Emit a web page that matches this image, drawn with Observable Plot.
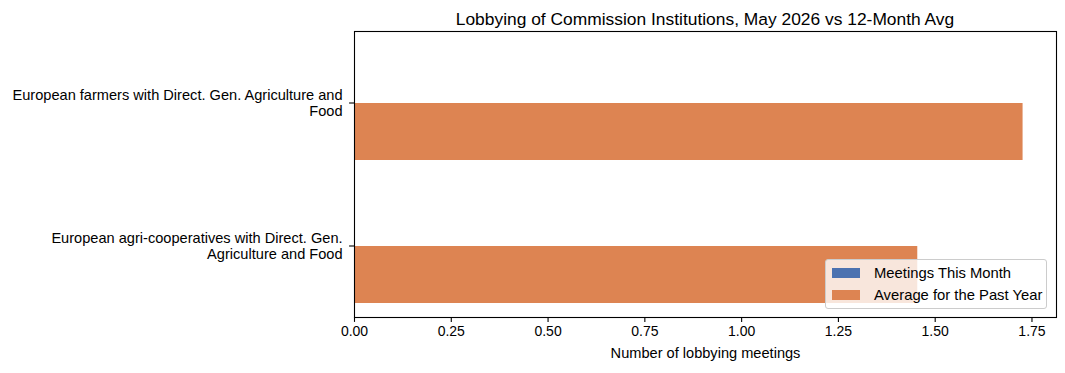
<!DOCTYPE html>
<html>
<head>
<meta charset="utf-8">
<script src="https://cdn.jsdelivr.net/npm/d3@7"></script>
<script src="https://cdn.jsdelivr.net/npm/@observablehq/plot@0.6"></script>
<style>
  body { margin: 0; background: #fff; font-family: "Liberation Sans", Arial, sans-serif; }
  #wrap { position: relative; width: 1065px; height: 373px; }
  #title { height: 30px; box-sizing: border-box; padding-top: 11px; margin-left: 354px; width: 702px; text-align: center; font-size: 17.4px; line-height: 17px; color: #000; white-space: nowrap; }
  #legend { position: absolute; left: 825px; top: 259px; width: 220px; height: 48px; border: 1px solid #cccccc; border-radius: 3px; background: rgba(255,255,255,0.8); font-size: 14.8px; color: #000; }
  .item { position: absolute; left: 6px; height: 16px; display: flex; align-items: center; white-space: nowrap; }
  .sw { width: 28px; height: 10px; margin-right: 14px; }
</style>
</head>
<body>
<div id="wrap">
  <div id="title"></div>
  <div id="chart"></div>
  <div id="legend"></div>
</div>
<script>
const titleText = "Lobbying of Commission Institutions, May 2026 vs 12-Month Avg";
const categories = [
  "European farmers with Direct. Gen. Agriculture and Food",
  "European agri-cooperatives with Direct. Gen. Agriculture and Food"
];
const categoryLabels = [
  "European farmers with Direct. Gen. Agriculture and\nFood",
  "European agri-cooperatives with Direct. Gen.\nAgriculture and Food"
];
const seriesNames = ["Meetings This Month", "Average for the Past Year"];
const seriesColors = ["#4c72b0", "#dd8452"];
const meetingsThisMonth = [0, 0];
const averagePastYear = [1.727, 1.455];
const xTicks = [0, 0.25, 0.5, 0.75, 1.0, 1.25, 1.5, 1.75];
const xLabel = "Number of lobbying meetings";

document.getElementById("title").textContent = titleText;

const rows = [];
categories.forEach((c, i) => {
  rows.push({category: c, series: seriesNames[0], value: meetingsThisMonth[i]});
  rows.push({category: c, series: seriesNames[1], value: averagePastYear[i]});
});
const labelOf = new Map(categories.map((c, i) => [c, categoryLabels[i]]));
const xMax = d3.max(rows, d => d.value) * 1.05;

const chart = Plot.plot({
  width: 1065,
  height: 343,
  marginTop: 1,
  marginBottom: 56,
  marginLeft: 354,
  marginRight: 9,
  style: {fontFamily: "Liberation Sans, Arial, sans-serif", fontSize: "14px", color: "#000", background: "#fff", overflow: "visible"},
  x: {domain: [0, xMax]},
  y: {domain: seriesNames, paddingInner: 0, paddingOuter: 0.25, axis: null},
  fy: {domain: categories, padding: 0},
  color: {domain: seriesNames, range: seriesColors},
  marks: [
    Plot.barX(rows, {x: "value", y: "series", fy: "category", fill: "series"}),
    Plot.frame({facet: "super", stroke: "#000", strokeWidth: 1.1}),
    Plot.axisX({ticks: xTicks, tickFormat: d3.format(".2f"), tickSize: 4.9, tickPadding: 4, strokeWidth: 1.1, fontSize: 14, label: null}),
    Plot.axisX({ticks: [], tickSize: 0, label: xLabel, labelAnchor: "center", labelArrow: "none", labelOffset: 40, fontSize: 14.6}),
    Plot.axisFy({anchor: "left", tickSize: 4.9, tickPadding: 7, strokeWidth: 1.1, tickFormat: d => labelOf.get(d), label: null, lineHeight: 1.12, fontSize: 14.6})
  ]
});
document.getElementById("chart").appendChild(chart);

const legend = document.getElementById("legend");
seriesNames.forEach((s, i) => {
  const item = document.createElement("div");
  item.className = "item";
  item.style.top = (5 + i * 22) + "px";
  const sw = document.createElement("div");
  sw.className = "sw";
  sw.style.background = seriesColors[i];
  const t = document.createElement("span");
  t.textContent = s;
  item.appendChild(sw);
  item.appendChild(t);
  legend.appendChild(item);
});
</script>
</body>
</html>
